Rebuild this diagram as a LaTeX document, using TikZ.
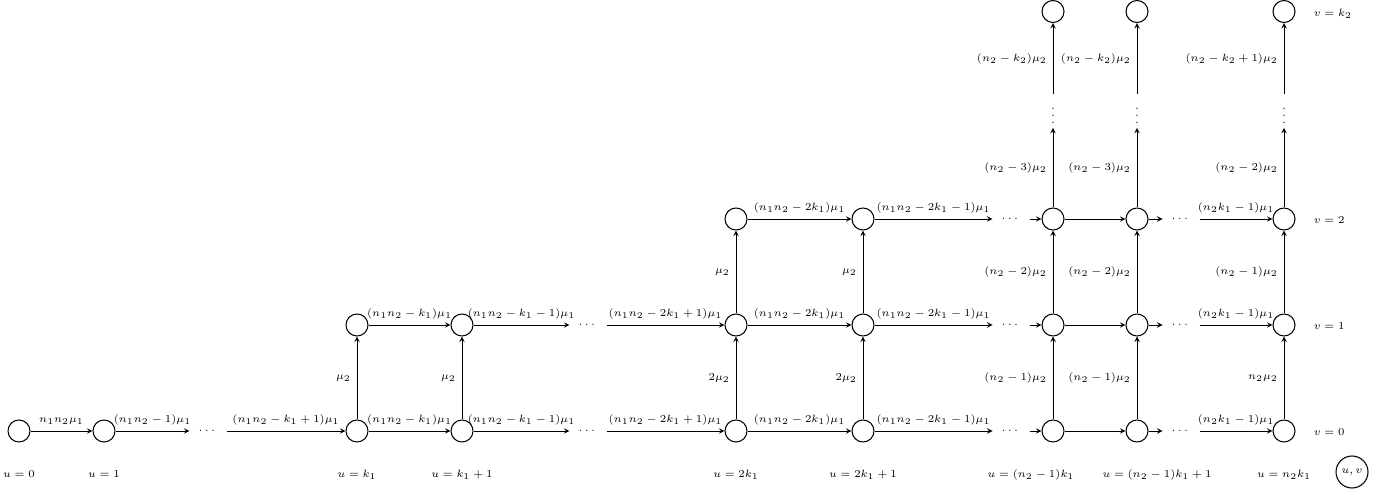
\documentclass[tikz,border=0pt]{standalone}
\usepackage{amsmath}
\usepackage{amssymb}
\usepackage{tikz}
\usetikzlibrary{positioning}

\begin{document}
\begin{tikzpicture}[>=stealth, font=\fontsize{6.3}{7.5}\selectfont,
				st/.style={
					draw, circle, inner sep=0pt,
					line width=0.6pt,
					minimum size=0.44cm,
				},
				hdots/.style={inner xsep=5pt, inner ysep=0pt},
				vdots/.style={inner xsep=0pt, inner ysep=2pt},
				ulab/.style={text height=1.6ex, text depth=0.4ex},
				vlab/.style={text height=1.6ex, text depth=0.4ex}
				]
				\useasboundingbox (0,0) rectangle (27.74,9.84);
				% row v = 0
				\node[st] (a0) at (0.38,1.22) {};
				\node[st] (a1) at (2.08,1.22) {};
				\node[hdots] (d01) at (4.16,1.22) {$\cdots$};
				\node[st] (a2) at (7.14,1.22) {};
				\node[st] (a3) at (9.24,1.22) {};
				\node[hdots] (d02) at (11.76,1.22) {$\cdots$};
				\node[st] (a4) at (14.72,1.22) {};
				\node[st] (a5) at (17.26,1.22) {};
				\node[hdots] (d03) at (20.22,1.22) {$\cdots$};
				\node[st] (a6) at (21.06,1.22) {};
				\node[st] (a7) at (22.74,1.22) {};
				\node[hdots] (d04) at (23.62,1.22) {$\cdots$};
				\node[st] (a8) at (25.68,1.22) {};
				
				% row v = 1
				\node[st] (b2) at (7.14,3.34) {};
				\node[st] (b3) at (9.24,3.34) {};
				\node[hdots] (d12) at (11.76,3.34) {$\cdots$};
				\node[st] (b4) at (14.72,3.34) {};
				\node[st] (b5) at (17.26,3.34) {};
				\node[hdots] (d13) at (20.22,3.34) {$\cdots$};
				\node[st] (b6) at (21.06,3.34) {};
				\node[st] (b7) at (22.74,3.34) {};
				\node[hdots] (d14) at (23.62,3.34) {$\cdots$};
				\node[st] (b8) at (25.68,3.34) {};
				
				% row v = 2
				\node[st] (c4) at (14.72,5.46) {};
				\node[st] (c5) at (17.26,5.46) {};
				\node[hdots] (d23) at (20.22,5.46) {$\cdots$};
				\node[st] (c6) at (21.06,5.46) {};
				\node[st] (c7) at (22.74,5.46) {};
				\node[hdots] (d24) at (23.62,5.46) {$\cdots$};
				\node[st] (c8) at (25.68,5.46) {};
				
				% vertical dots and row v = k2
				\node[vdots] (e6) at (21.06,7.62) {$\vdots$};
				\node[vdots] (e7) at (22.74,7.62) {$\vdots$};
				\node[vdots] (e8) at (25.68,7.62) {$\vdots$};
				\node[st] (t6) at (21.06,9.61) {};
				\node[st] (t7) at (22.74,9.61) {};
				\node[st] (t8) at (25.68,9.61) {};
				
				% horizontal arrows
				\draw[->] (a0) -- node[above] {$n_1n_2\mu_1$} (a1);
				\draw[->] (a1) -- node[above] {$(n_1n_2-1)\mu_1$} (d01);
				\draw[->] (d01) -- node[above] {$(n_1n_2-k_1+1)\mu_1$} (a2);
				\draw[->] (a2) -- node[above] {$(n_1n_2-k_1)\mu_1$} (a3);
				\draw[->] (a3) -- node[above] {$(n_1n_2-k_1-1)\mu_1$} (d02);
				\draw[->] (d02) -- node[above] {$(n_1n_2-2k_1+1)\mu_1$} (a4);
				\draw[->] (a4) -- node[above] {$(n_1n_2-2k_1)\mu_1$} (a5);
				\draw[->] (a5) -- node[above] {$(n_1n_2-2k_1-1)\mu_1$} (d03);
				\draw[->] (d03) -- (a6);
				\draw[->] (a6) -- (a7);
				\draw[->] (a7) -- (d04);
				\draw[->] (d04) -- node[above] {$(n_2k_1-1)\mu_1$} (a8);
				
				\draw[->] (b2) -- node[above] {$(n_1n_2-k_1)\mu_1$} (b3);
				\draw[->] (b3) -- node[above] {$(n_1n_2-k_1-1)\mu_1$} (d12);
				\draw[->] (d12) -- node[above] {$(n_1n_2-2k_1+1)\mu_1$} (b4);
				\draw[->] (b4) -- node[above] {$(n_1n_2-2k_1)\mu_1$} (b5);
				\draw[->] (b5) -- node[above] {$(n_1n_2-2k_1-1)\mu_1$} (d13);
				\draw[->] (d13) -- (b6);
				\draw[->] (b6) -- (b7);
				\draw[->] (b7) -- (d14);
				\draw[->] (d14) -- node[above] {$(n_2k_1-1)\mu_1$} (b8);
				
				\draw[->] (c4) -- node[above] {$(n_1n_2-2k_1)\mu_1$} (c5);
				\draw[->] (c5) -- node[above] {$(n_1n_2-2k_1-1)\mu_1$} (d23);
				\draw[->] (d23) -- (c6);
				\draw[->] (c6) -- (c7);
				\draw[->] (c7) -- (d24);
				\draw[->] (d24) -- node[above] {$(n_2k_1-1)\mu_1$} (c8);
				
				% vertical arrows
				\draw[->] (a2) -- node[left] {$\mu_2$} (b2);
				\draw[->] (a3) -- node[left] {$\mu_2$} (b3);
				\draw[->] (a4) -- node[left] {$2\mu_2$} (b4);
				\draw[->] (a5) -- node[left] {$2\mu_2$} (b5);
				\draw[->] (b4) -- node[left] {$\mu_2$} (c4);
				\draw[->] (b5) -- node[left] {$\mu_2$} (c5);
				
				\draw[->] (a6) -- node[left] {$(n_2-1)\mu_2$} (b6);
				\draw[->] (b6) -- node[left] {$(n_2-2)\mu_2$} (c6);
				\draw[->] (c6) -- node[left] {$(n_2-3)\mu_2$} (e6);
				\draw[->] (e6) -- node[left] {$(n_2-k_2)\mu_2$} (t6);
				\draw[->] (a7) -- node[left] {$(n_2-1)\mu_2$} (b7);
				\draw[->] (b7) -- node[left] {$(n_2-2)\mu_2$} (c7);
				\draw[->] (c7) -- node[left] {$(n_2-3)\mu_2$} (e7);
				\draw[->] (e7) -- node[left] {$(n_2-k_2)\mu_2$} (t7);
				\draw[->] (a8) -- node[left] {$n_2\mu_2$} (b8);
				\draw[->] (b8) -- node[left] {$(n_2-1)\mu_2$} (c8);
				\draw[->] (c8) -- node[left] {$(n_2-2)\mu_2$} (e8);
				\draw[->] (e8) -- node[left] {$(n_2-k_2+1)\mu_2$} (t8);
				
				% u and v labels
				\node[ulab, below=0.34cm of a0] (u0) {$u=0$};
				\node[ulab, below=0.34cm of a1] (u1) {$u=1$};
				\node[ulab, below=0.34cm of a2] (u2) {$u=k_1$};
				\node[ulab, below=0.34cm of a3] (u3) {$u=k_1+1$};
				\node[ulab, below=0.34cm of a4] (u4) {$u=2k_1$};
				\node[ulab, below=0.34cm of a5] (u5) {$u=2k_1+1$};
				\node[ulab, below=0.34cm of a6, xshift=-0.44cm] (u6) {$u=(n_2-1)k_1$};
				\node[ulab, below=0.34cm of a7, xshift=0.4cm] (u7) {$u=(n_2-1)k_1+1$};
				\node[ulab, below=0.34cm of a8] (u8) {$u=n_2k_1$};
				
				\node[vlab, right=0.24cm of a8] (v0) {$v=0$};
				\node[vlab, right=0.24cm of b8] (v1) {$v=1$};
				\node[vlab, right=0.24cm of c8] (v2) {$v=2$};
				\node[vlab, right=0.24cm of t8] (vk) {$v=k_2$};
				
				\node[st, minimum size=0.64cm] (key) at (27.04,0.40) {$u,v$};
			\end{tikzpicture}
\end{document}
